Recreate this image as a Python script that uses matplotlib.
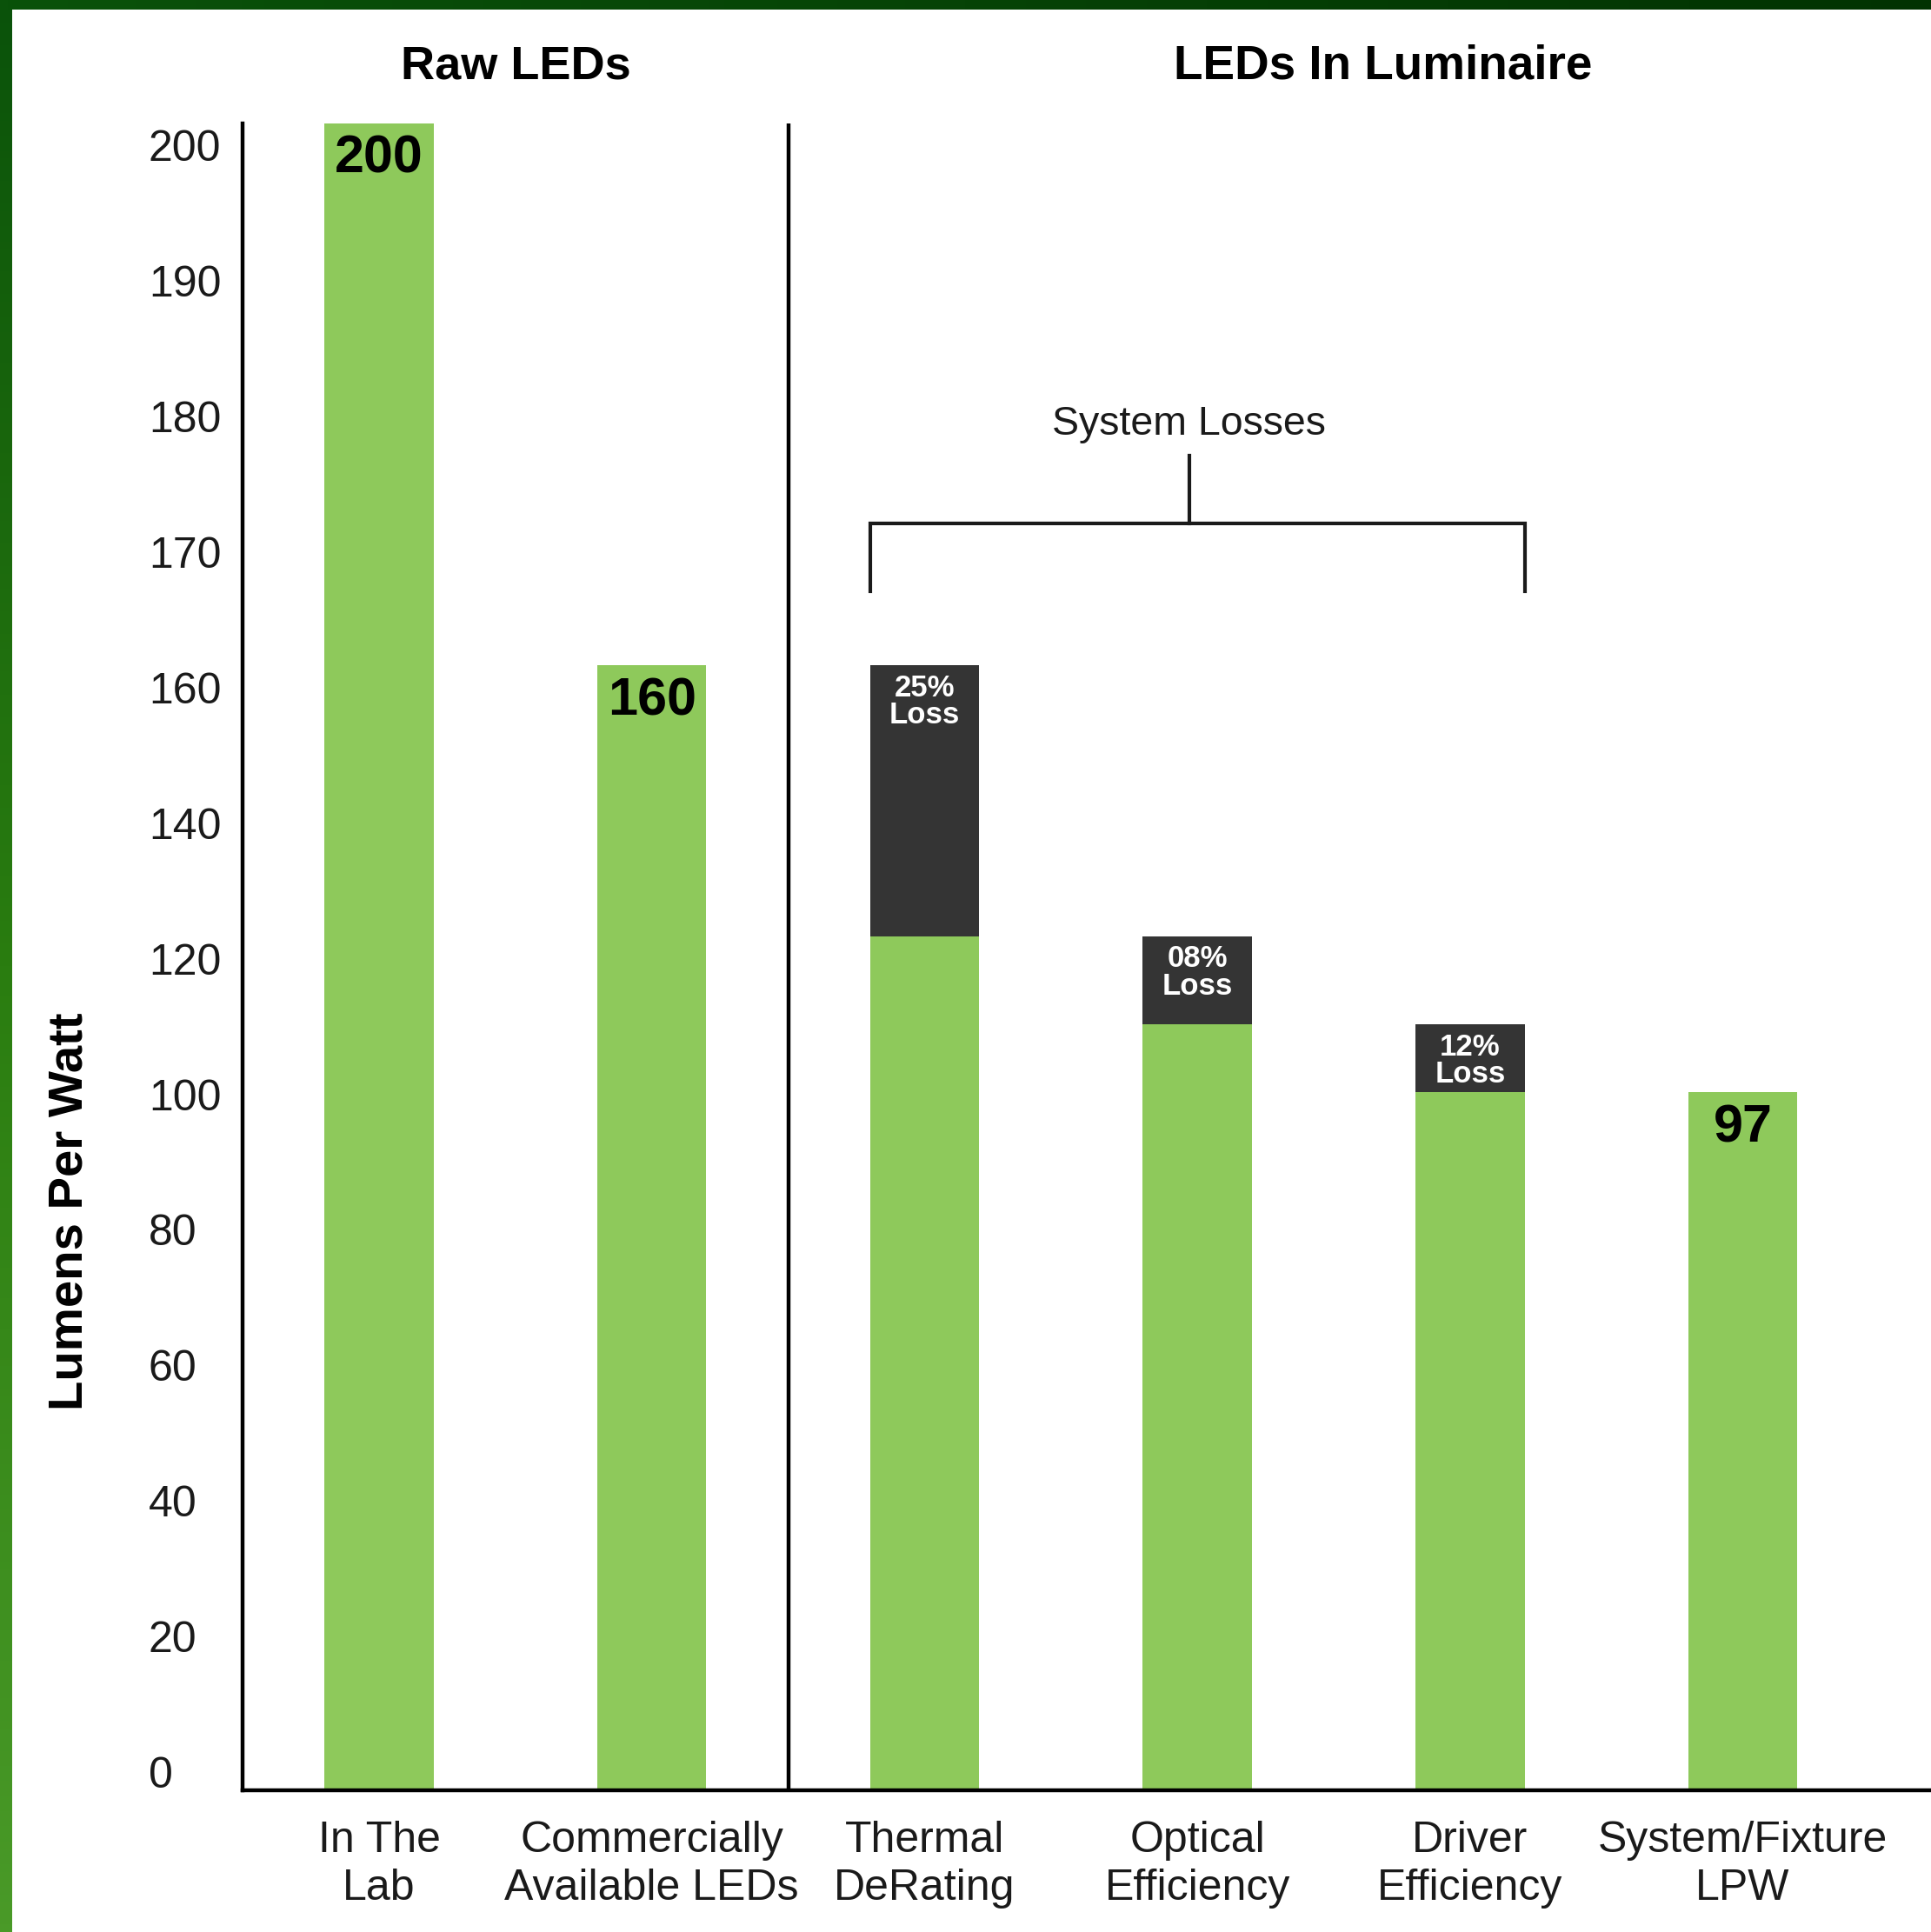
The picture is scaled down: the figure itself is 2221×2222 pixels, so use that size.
import numpy as np
import matplotlib
matplotlib.use("Agg")
import matplotlib.pyplot as plt
from matplotlib import font_manager
from matplotlib.transforms import ScaledTranslation
from matplotlib.colors import LinearSegmentedColormap

# ---------------- data ----------------
categories = ["In The\nLab", "Commercially\nAvailable LEDs", "Thermal\nDeRating",
              "Optical\nEfficiency", "Driver\nEfficiency", "System/Fixture\nLPW"]
remaining = [200, 160, 120, 107, 97, 97]      # green part (lumens per watt)
losses = [0, 0, 40, 13, 10, 0]                # dark "loss" part on top
value_labels = ["200", "160", "", "", "", "97"]
loss_labels = ["", "", "25%\nLoss", "08%\nLoss", "12%\nLoss", ""]
yticks = [0, 20, 40, 60, 80, 100, 120, 140, 160, 170, 180, 190, 200]
group_titles = ["Raw LEDs", "LEDs In Luminaire"]
bracket_label = "System Losses"
y_label = "Lumens Per Watt"

# ---------------- fonts ----------------
names = {f.name for f in font_manager.fontManager.ttflist}
FONT = "Liberation Sans" if "Liberation Sans" in names else "DejaVu Sans"

GREEN = "#8ec95b"
DARK = "#343434"
TXT = "#1a1a1a"

# ---------------- figure ----------------
fig = plt.figure(figsize=(22.21, 22.22), dpi=100)
fig.patch.set_facecolor("white")
ax = fig.add_axes([0.1257, 0.0733, 0.8743, 0.8629])

def fwd(v):
    v = np.asarray(v, dtype=float)
    return np.where(v <= 160, v, 160 + (v - 160) * 2.0)

def inv(u):
    u = np.asarray(u, dtype=float)
    return np.where(u <= 160, u, 160 + (u - 160) / 2.0)

ax.set_yscale("function", functions=(fwd, inv))
floor = -6
x = np.arange(len(categories))
ax.bar(x, np.array(remaining) - floor, bottom=floor, width=0.4, color=GREEN, zorder=2)
ax.bar(x, losses, bottom=remaining, width=0.4, color=DARK, zorder=2)
ax.set_ylim(floor, 200)
ax.set_xlim(-0.5, 5.69)

# spines
for s in ["top", "right"]:
    ax.spines[s].set_visible(False)
for s in ["left", "bottom"]:
    ax.spines[s].set_linewidth(3.2)
    ax.spines[s].set_color("black")
ax.axvline(1.5, color="black", lw=3.2, zorder=3)

# y ticks
ax.set_yticks(yticks)
ax.set_yticklabels([str(t) for t in yticks], fontsize=36, family=FONT, color=TXT)
ax.tick_params(axis="y", length=0, pad=78)
off = ScaledTranslation(0, -18.4 / 72, fig.dpi_scale_trans)
for lbl in ax.get_yticklabels():
    lbl.set_transform(lbl.get_transform() + off)
    lbl.set_horizontalalignment("left")

# x ticks
ax.set_xticks(x)
ax.set_xticklabels(categories, fontsize=36, family=FONT, linespacing=1.26, color=TXT)
ax.tick_params(axis="x", length=0, pad=25)

# value labels
for xi, top, txt in zip(x, remaining, value_labels):
    if txt:
        ax.annotate(txt, (xi, top), xytext=(0, -30), textcoords="offset points",
                    ha="center", va="center", fontsize=44, fontweight="bold",
                    family=FONT, color="black", zorder=4)
for xi, top, ls, txt in zip(x, remaining, losses, loss_labels):
    if txt:
        ax.annotate(txt, (xi, top + ls), xytext=(0, -30), textcoords="offset points",
                    ha="center", va="center", fontsize=25, fontweight="bold",
                    family=FONT, color="white", linespacing=0.95, zorder=4)

# bracket
ax.plot([1.8, 1.8, 4.2, 4.2], [165.5, 170.5, 170.5, 165.5], color=TXT, lw=3,
        solid_joinstyle="miter", zorder=3)
ax.plot([2.97, 2.97], [170.5, 175.5], color=TXT, lw=3, zorder=3)
ax.text(2.97, 177.8, bracket_label, ha="center", va="center", fontsize=33.5,
        family=FONT, color=TXT)

# group titles
xt = ax.get_xaxis_transform()
ax.text(0.5, 1.034, group_titles[0], transform=xt, ha="center", va="center",
        fontsize=39, fontweight="bold", family=FONT, clip_on=False)
ax.text(3.68, 1.034, group_titles[1], transform=xt, ha="center", va="center",
        fontsize=39.5, fontweight="bold", family=FONT, clip_on=False)

# y label
fig.text(0.0364, 0.373, y_label, rotation=90, ha="center", va="center",
         fontsize=40.5, fontweight="bold", family=FONT)

# green frame (left and top)
cm_left = LinearSegmentedColormap.from_list("l", ["#0a520a", "#2a7d10", "#4a9a28"])
axl = fig.add_axes([0, 0, 14 / 2221, 1])
axl.imshow(np.linspace(0, 1, 256).reshape(-1, 1), aspect="auto", cmap=cm_left)
axl.axis("off")
cm_top = LinearSegmentedColormap.from_list("t", ["#0a520a", "#064306", "#023302"])
axt = fig.add_axes([0, 1 - 11 / 2222, 1, 11 / 2222])
axt.imshow(np.linspace(0, 1, 256).reshape(1, -1), aspect="auto", cmap=cm_top)
axt.axis("off")

fig.savefig("out.png", dpi=100, facecolor="white")
